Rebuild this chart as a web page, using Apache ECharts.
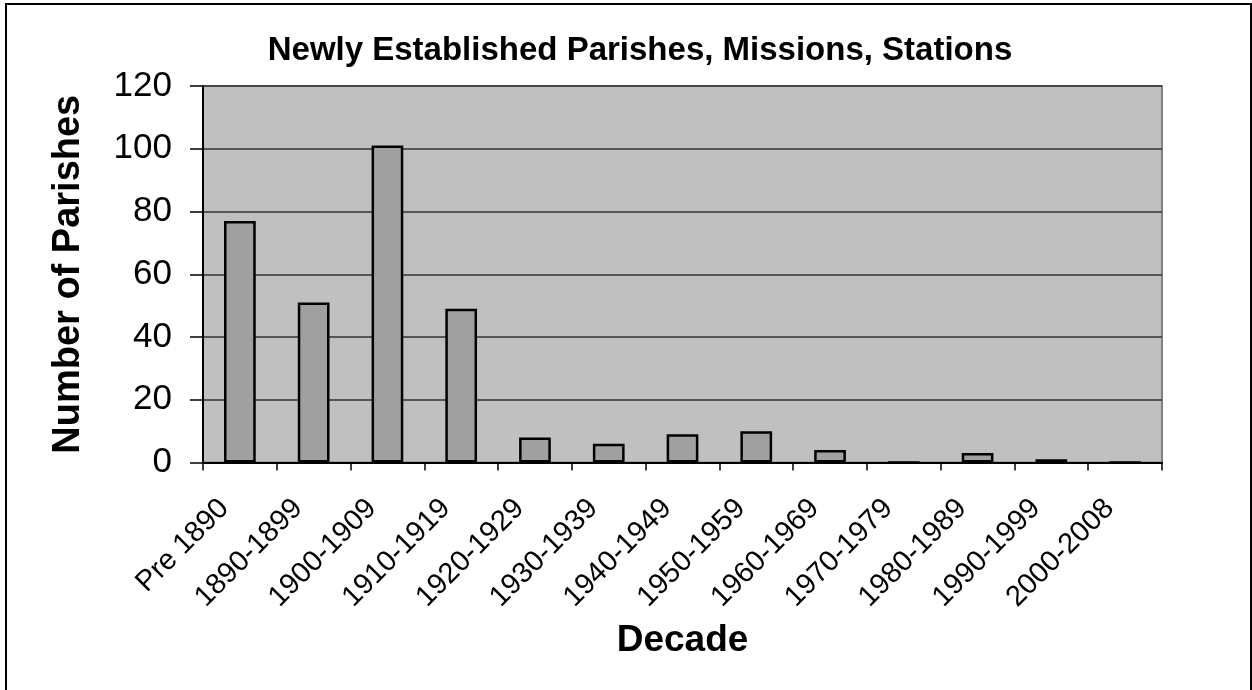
<!DOCTYPE html>
<html><head><meta charset="utf-8">
<script src="https://cdn.jsdelivr.net/npm/echarts@6/dist/echarts.min.js"></script>
<style>html,body{margin:0;padding:0;background:#fff;}#c{width:1252px;height:690px;}</style>
</head><body><div id="c"></div>
<script>
const categories = ['Pre 1890','1890-1899','1900-1909','1910-1919','1920-1929','1930-1939','1940-1949','1950-1959','1960-1969','1970-1979','1980-1989','1990-1999','2000-2008'];
const parishes = [77, 51, 101, 49, 8, 6, 9, 10, 4, 0, 3, 1, 0];
const yTicks = [0, 20, 40, 60, 80, 100, 120];
const titleText = 'Newly Established Parishes, Missions, Stations';
const xTitle = 'Decade';
const yTitle = 'Number of Parishes';

const chart = echarts.init(document.getElementById('c'));
const F = 'Liberation Sans, Arial, sans-serif';
chart.setOption({
  animation: false,
  backgroundColor: '#fff',
  title: { text: titleText, left: 635, top: 29, textAlign: 'center',
    textStyle: { fontFamily: F, fontWeight: 'bold', fontSize: 33, color: '#000' } },
  grid: { left: 203, right: 90, top: 86, bottom: 227.5, show: true, backgroundColor: '#c0c0c0', borderColor: '#808080', borderWidth: 2 },
  graphic: [{ type: 'rect', shape: { x: 6, y: 4, width: 1245, height: 700 }, style: { fill: 'none', stroke: '#000', lineWidth: 2 }, silent: true }],
  xAxis: {
    type: 'category', data: categories,
    name: xTitle, nameLocation: 'middle', nameGap: 160, nameMoveOverlap: false,
    nameTextStyle: { fontFamily: F, fontWeight: 'bold', fontSize: 37, color: '#000' },
    axisLine: { lineStyle: { color: '#000', width: 2 } },
    axisTick: { show: true, alignWithLabel: false, length: 8, lineStyle: { color: '#000', width: 1.5 } },
    axisLabel: { rotate: 45, interval: 0, fontFamily: F, fontSize: 29, color: '#000', margin: 26, padding: [0, 22, 0, 0] }
  },
  yAxis: {
    type: 'value', min: 0, max: 120, interval: 20,
    name: yTitle, nameLocation: 'middle', nameGap: 115, nameRotate: 90, nameMoveOverlap: false,
    nameTextStyle: { fontFamily: F, fontWeight: 'bold', fontSize: 38, color: '#000' },
    axisLine: { show: true, lineStyle: { color: '#000', width: 2 } },
    axisTick: { show: true, length: 13, lineStyle: { color: '#000', width: 1.5 } },
    axisLabel: { fontFamily: F, fontSize: 35, color: '#000', margin: 31,
      formatter: v => yTicks.includes(v) ? String(v) : '' },
    splitLine: { show: true, lineStyle: { color: '#333', width: 1.5 } }
  },
  series: [{
    type: 'bar', data: parishes, barWidth: '43%',
    itemStyle: { color: '#a0a0a0', borderColor: '#000', borderWidth: 2.5 }
  }]
});
</script></body></html>
